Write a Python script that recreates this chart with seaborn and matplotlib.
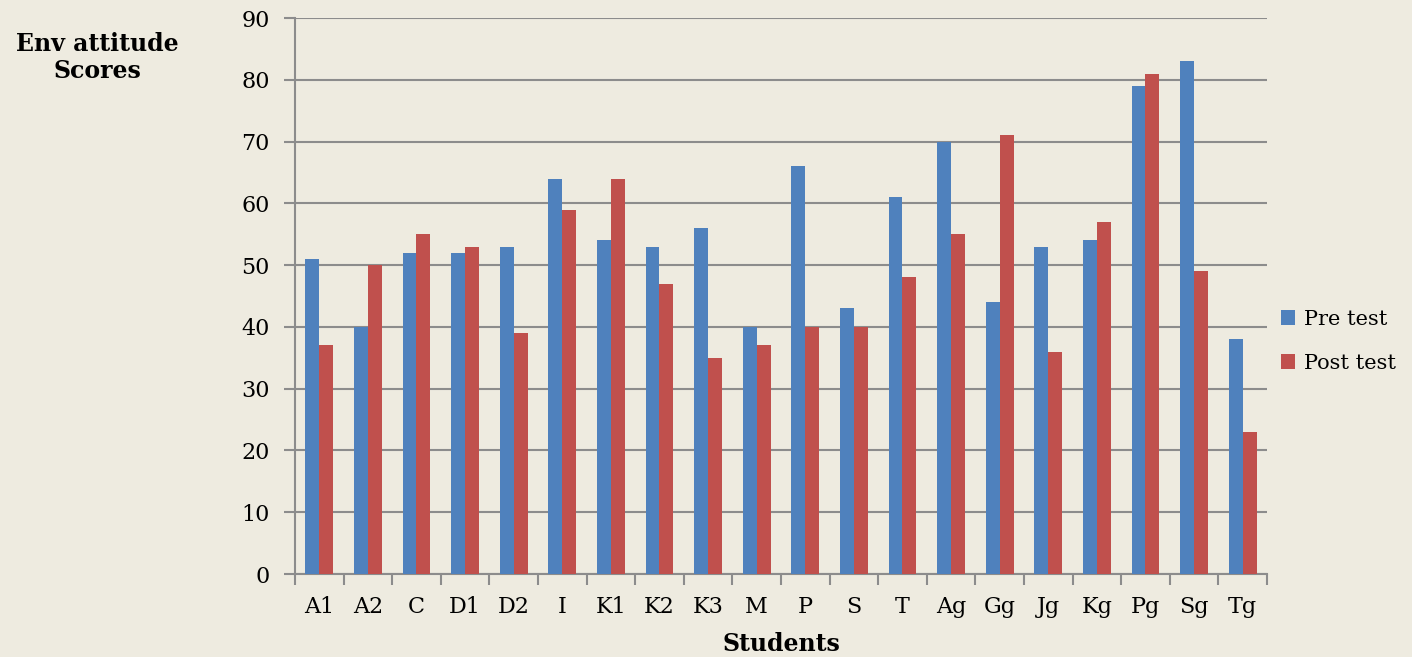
import pandas as pd
import matplotlib
matplotlib.use("Agg")
import matplotlib.pyplot as plt
import seaborn as sns
import numpy as np

# data
students = ["A1", "A2", "C", "D1", "D2", "I", "K1", "K2", "K3", "M",
            "P", "S", "T", "Ag", "Gg", "Jg", "Kg", "Pg", "Sg", "Tg"]
pre_test = [51, 40, 52, 52, 53, 64, 54, 53, 56, 40,
            66, 43, 61, 70, 44, 53, 54, 79, 83, 38]
post_test = [37, 50, 55, 53, 39, 59, 64, 47, 35, 37,
             40, 40, 48, 55, 71, 36, 57, 81, 49, 23]
y_ticks = [0, 10, 20, 30, 40, 50, 60, 70, 80, 90]

df = pd.DataFrame({
    "Student": students * 2,
    "Score": pre_test + post_test,
    "Test": ["Pre test"] * len(students) + ["Post test"] * len(students),
})

bg = "#EEEBE0"
sns.set_style("white")
plt.rcParams["font.family"] = ["DejaVu Serif"]
plt.rcParams["text.color"] = "black"
plt.rcParams["xtick.color"] = "black"
plt.rcParams["ytick.color"] = "black"

fig = plt.figure(figsize=(14.12, 6.57), dpi=100, facecolor=bg)
ax = fig.add_axes([0.2089, 0.1263, 0.6884, 0.8463])
ax.set_facecolor(bg)

sns.barplot(data=df, x="Student", y="Score", hue="Test", order=students,
            palette={"Pre test": "#4F81BD", "Post test": "#C0504D"},
            width=0.57, saturation=1, linewidth=0, ax=ax, zorder=3)

ax.set_ylim(0, 90)
ax.set_xlim(-0.5, len(students) - 0.5)
ax.set_yticks(y_ticks)
ax.yaxis.grid(True, color="#8C8C8C", linewidth=1.5, zorder=0)
ax.set_axisbelow(True)

for side in ["top", "right"]:
    ax.spines[side].set_visible(False)
for side in ["left", "bottom"]:
    ax.spines[side].set_color("#8C8C8C")
    ax.spines[side].set_linewidth(1.5)

ax.tick_params(axis="y", left=True, length=8, width=1.5, color="#8C8C8C",
               labelcolor="black", labelsize=16, pad=10)
ax.tick_params(axis="x", which="major", bottom=False, length=0,
               labelcolor="black", labelsize=16, pad=16)
ax.set_xticks(np.arange(-0.5, len(students)), minor=True)
ax.tick_params(axis="x", which="minor", bottom=True, length=8, width=1.5,
               color="#8C8C8C")

ax.set_xlabel("Students", fontsize=17, fontweight="bold", labelpad=10,
              color="black")
ax.set_ylabel("")
fig.text(0.069, 0.913, "Env attitude\nScores", ha="center", va="center",
         fontsize=17, fontweight="bold", linespacing=1.15, color="black")

ax.legend(loc="center left", bbox_to_anchor=(0.995, 0.419), frameon=False,
          fontsize=15, handlelength=0.7, handleheight=0.7, handletextpad=0.4,
          labelspacing=1.2)

fig.savefig("out.png", dpi=100, facecolor=bg)
